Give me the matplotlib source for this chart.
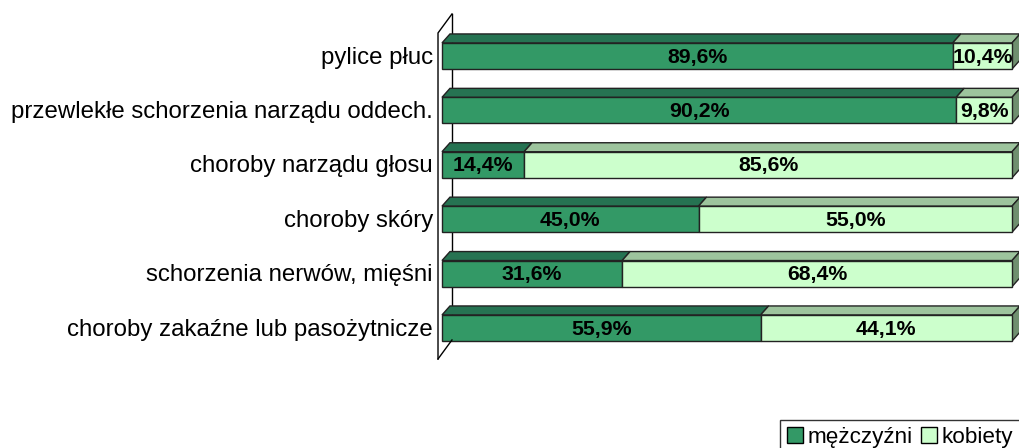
import matplotlib.pyplot as plt
from matplotlib.patches import Polygon, Patch

plt.rcParams['font.family'] = ['Liberation Sans', 'DejaVu Sans']

categories = ['pylice płuc', 'przewlekłe schorzenia narządu oddech.', 'choroby narządu głosu',
              'choroby skóry', 'schorzenia nerwów, mięśni', 'choroby zakaźne lub pasożytnicze']
men = [89.6, 90.2, 14.4, 45.0, 31.6, 55.9]
women = [10.4, 9.8, 85.6, 55.0, 68.4, 44.1]
series_names = ['mężczyźni', 'kobiety']

front_cols = ['#339966', '#ccffcc']
top_cols = ['#267352', '#9dc49d']
side_cols = ['#1f5f43', '#6f8f6f']

# depth of the 3d look, in data units
dx, dy = 1.4, 0.165
h = 0.48

fig = plt.figure(figsize=(10.2, 4.48), dpi=100)
ax = fig.add_axes([0, 0, 1, 1])
ax.set_xlim(-77.54, 101.4)
ax.set_ylim(7.206, -1.029)
ax.axis('off')

# wall / axis lines
fx, bx = -0.7, 1.75
ft, fb = -0.423, 5.57
bt, bb = -0.772, 5.22
ax.plot([bx, bx], [bt, bb], color='black', lw=1, zorder=1)
ax.plot([fx, fx, bx], [fb, ft, bt], color='black', lw=1, zorder=5)
ax.plot([fx, bx], [fb, bb], color='black', lw=1, zorder=5)

for i, cat in enumerate(categories):
    left = 0
    vals = [men[i], women[i]]
    for k, v in enumerate(vals):
        ax.barh(i, v, left=left, height=h, color=front_cols[k], edgecolor='#222222', lw=1, zorder=3)
        top = [(left, i - h / 2), (left + v, i - h / 2), (left + v + dx, i - h / 2 - dy), (left + dx, i - h / 2 - dy)]
        ax.add_patch(Polygon(top, closed=True, fc=top_cols[k], ec='#222222', lw=1, zorder=2))
        ax.text(left + v / 2, i + 0.02, f'{v:.1f}%'.replace('.', ','), ha='center', va='center',
                fontsize=15.3, fontweight='bold', zorder=6)
        left += v
    side = [(left, i - h / 2), (left + dx, i - h / 2 - dy), (left + dx, i + h / 2 - dy), (left, i + h / 2)]
    ax.add_patch(Polygon(side, closed=True, fc=side_cols[1], ec='#222222', lw=1, zorder=2))
    ax.text(-1.6, i + 0.03, cat, ha='right', va='center', fontsize=17.3)

handles = [Patch(fc=front_cols[0], ec='black'), Patch(fc=front_cols[1], ec='black')]
leg = fig.legend(handles, series_names, loc='lower right', bbox_to_anchor=(1.0, -0.015), ncol=2,
                 fontsize=16.2, frameon=True, fancybox=False, edgecolor='black',
                 handlelength=0.7, handleheight=0.7, handletextpad=0.2, columnspacing=0.4,
                 borderpad=0.3, borderaxespad=0)
leg.get_frame().set_linewidth(1)

fig.savefig('out.png', dpi=100)
